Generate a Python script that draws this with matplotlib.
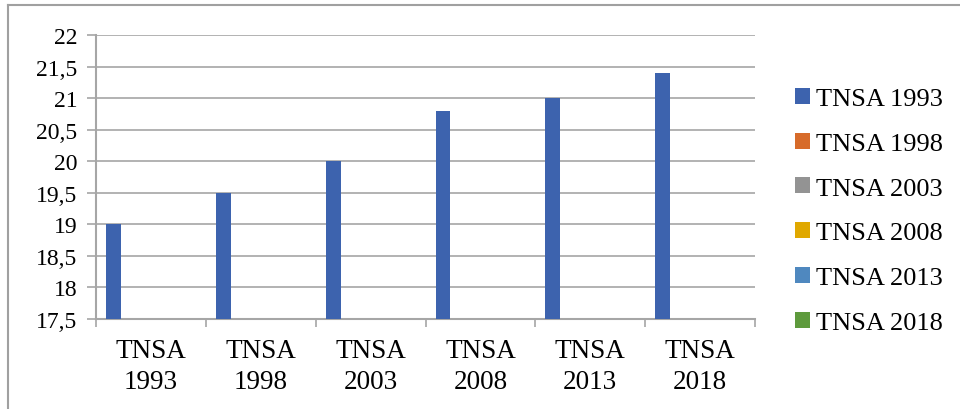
import matplotlib.pyplot as plt
import numpy as np
from matplotlib.lines import Line2D
from matplotlib.patches import Patch

plt.rcParams['font.family'] = ['Liberation Serif', 'DejaVu Serif']

surveys = ["TNSA 1993", "TNSA 1998", "TNSA 2003", "TNSA 2008", "TNSA 2013", "TNSA 2018"]
categories = ["TNSA\n1993", "TNSA\n1998", "TNSA\n2003", "TNSA\n2008", "TNSA\n2013", "TNSA\n2018"]
values = [19, 19.5, 20, 20.8, 21, 21.4]
series_colors = ["#3D63AE", "#D76B2A", "#939393", "#E0A800", "#4F88BF", "#5E9A3D"]

y_min, y_max = 17.5, 22
grid_color = "#A6A6A6"

fig = plt.figure(figsize=(9.6, 4.1), dpi=100)
ax = fig.add_axes([0.1, 0.2195, 0.6865, 0.6927])

# only the first series carries values; it sits in the leftmost slot of each cluster
slot = 15 / 110
x = np.arange(len(categories))
ax.bar(x - 0.5 + 10 / 110, np.array(values) - y_min, bottom=y_min, width=slot,
       align="edge", color=series_colors[0], zorder=3)

ax.set_xlim(-0.5, len(categories) - 0.5)
ax.set_ylim(y_min, y_max)
ticks = np.arange(17.5, 22.01, 0.5)
ax.set_yticks(ticks)
ax.set_yticklabels([f"{v:g}".replace(".", ",") for v in ticks])
ax.yaxis.grid(True, color=grid_color, linewidth=1.2, zorder=0)

ax.set_xticks(np.arange(-0.5, len(categories), 1.0), minor=False)
ax.set_xticklabels([])
ax.set_xticks(x, minor=True)
ax.set_xticklabels(categories, minor=True, fontsize=19.5, linespacing=1.3)
ax.tick_params(axis="x", which="major", length=6, width=1.2, color=grid_color, direction="out")
ax.tick_params(axis="x", which="minor", length=0, pad=14)
ax.tick_params(axis="y", length=6.5, width=1.2, color=grid_color, direction="out",
               labelsize=17, pad=7)

for side in ["top", "right"]:
    ax.spines[side].set_visible(False)
for side in ["left", "bottom"]:
    ax.spines[side].set_color(grid_color)
    ax.spines[side].set_linewidth(1.5)

handles = [Patch(facecolor=c, edgecolor="none") for c in series_colors]
fig.legend(handles, surveys, loc="upper left", bbox_to_anchor=(0.8145, 0.815),
           frameon=False, fontsize=19, handlelength=0.55, handleheight=0.55,
           handletextpad=0.25, labelspacing=0.85, borderpad=0)

# chart area frame
fig.add_artist(Line2D([0.0085, 0.0085], [0, 0.985], color="#A0A0A0", linewidth=1.5))
fig.add_artist(Line2D([0.0085, 1], [0.985, 0.985], color="#A0A0A0", linewidth=1.5))

fig.savefig("out.png", dpi=100)
